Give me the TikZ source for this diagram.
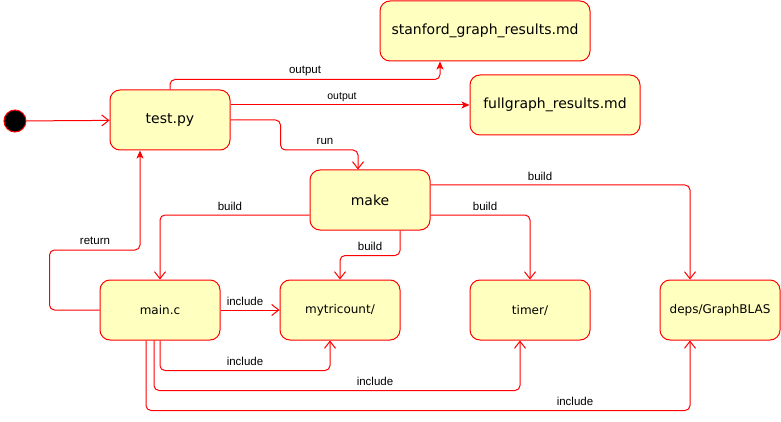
\documentclass[tikz,border=0pt]{standalone}
\usepackage{fontspec}
\setmainfont{DejaVu Sans}
\newfontfamily\labelfont{Liberation Sans}
\usetikzlibrary{arrows.meta}
\definecolor{statered}{HTML}{FF0000}
\definecolor{stateyellow}{HTML}{FFFFC0}
\tikzstyle{state}=[draw=statered, fill=stateyellow, line width=1pt, rounded corners=10pt, minimum width=120pt, minimum height=60pt, font=\fontsize{14}{16}\selectfont]
\tikzstyle{small state}=[state, font=\fontsize{12}{14}\selectfont]
\tikzstyle{initial}=[circle, draw=statered, fill=black, line width=1pt, minimum size=22pt, inner sep=0]
\tikzstyle{flow}=[draw=statered, line width=1pt, rounded corners=5pt]
\tikzstyle{open flow}=[flow, -{Straight Barb[length=7pt, width=11pt]}]
\tikzstyle{solid flow}=[flow, -{Stealth[length=8pt, width=7pt, inset=2pt]}]
\tikzstyle{edge label}=[inner sep=1pt, font=\labelfont\fontsize{11.5}{13}\selectfont]

\begin{document}
\begin{tikzpicture}[x=1pt, y=-1pt]
  \useasboundingbox (0,0) rectangle (781,422);

  \node[initial] (start) at (15,121) {};
  \node[state] (testpy) at (170,120) {test.py};
  \node[state, minimum width=210pt] (stanford) at (485,31) {stanford\_graph\_results.md};
  \node[state, minimum width=170pt] (fullgraph) at (555,105) {fullgraph\_results.md};
  \node[state] (make) at (370,200) {make};
  \node[small state] (mainc) at (160,310) {main.c};
  \node[small state] (mytricount) at (340,310) {mytricount/};
  \node[small state] (timer) at (530,310) {timer/};
  \node[small state] (graphblas) at (720,310) {deps/GraphBLAS};

  % test.py
  \draw[open flow] (start) -- (testpy);
  \draw[solid flow] (testpy.north) -- ++(0,-10) -| ([xshift=-45pt]stanford.south);
  \draw[solid flow] ([yshift=15pt]testpy.east) -- (fullgraph.west);
  \draw[open flow] (testpy.east) -- ++(50,0) -- ++(0,30) -| ([xshift=-12pt]make.north);
  \node[edge label] (out_stanford) at (305,71) {output};
  \node[edge label, font=\labelfont\fontsize{10.5}{12}\selectfont] (out_full) at (342,97) {output};
  \node[edge label] (run) at (325,141) {run};

  % make
  \draw[open flow] ([yshift=-15pt]make.west) -| (mainc.north);
  \draw[open flow] ([xshift=30pt]make.south) -- ++(0,25) -| (mytricount.north);
  \draw[open flow] ([yshift=-15pt]make.east) -| (timer.north);
  \draw[open flow] ([yshift=15pt]make.east) -| ([xshift=-30pt]graphblas.north);
  \node[edge label] (build_main) at (230,206) {build};
  \node[edge label] (build_mytri) at (370,246) {build};
  \node[edge label] (build_timer) at (485,206) {build};
  \node[edge label] (build_deps) at (540,176) {build};

  % main.c
  \draw[solid flow] (mainc.west) -- ++(-50,0) -- ++(0,-60) -| ([xshift=-30pt]testpy.south);
  \draw[open flow] (mainc.east) -- (mytricount.west);
  \draw[open flow] (mainc.south) -- ++(0,30) -| ([xshift=-10pt]mytricount.south);
  \draw[open flow] ([xshift=-6pt]mainc.south) -- ++(0,50) -| ([xshift=-10pt]timer.south);
  \draw[open flow] ([xshift=-14pt]mainc.south) -- ++(0,70) -| ([xshift=-30pt]graphblas.south);
  \node[edge label] (ret) at (95,241) {return};
  \node[edge label] (inc_side) at (245,301) {include};
  \node[edge label] (inc_mytri) at (245,361) {include};
  \node[edge label] (inc_timer) at (375,381) {include};
  \node[edge label] (inc_deps) at (575,401) {include};
\end{tikzpicture}
\end{document}
